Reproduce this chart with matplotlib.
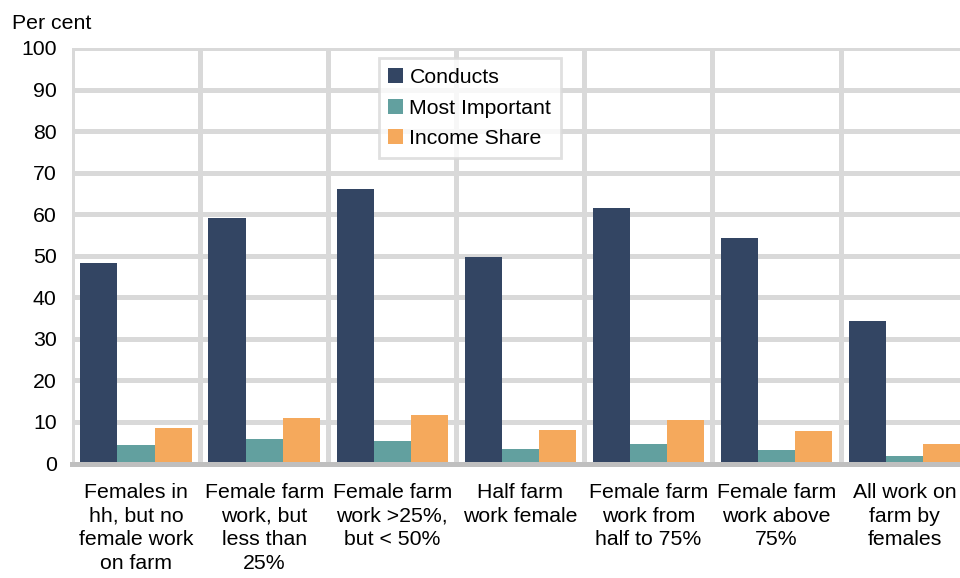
import matplotlib
matplotlib.use("Agg")
import matplotlib.pyplot as plt
import numpy as np
from matplotlib.ticker import FixedLocator

plt.rcParams['font.family'] = ['Liberation Sans', 'DejaVu Sans']

categories = ["Females in\nhh, but no\nfemale work\non farm",
              "Female farm\nwork, but\nless than\n25%",
              "Female farm\nwork >25%,\nbut < 50%",
              "Half farm\nwork female",
              "Female farm\nwork from\nhalf to 75%",
              "Female farm\nwork above\n75%",
              "All work on\nfarm by\nfemales"]
conducts = [48.2, 59.0, 66.0, 49.8, 61.6, 54.3, 34.2]
most_important = [4.5, 5.8, 5.4, 3.4, 4.6, 3.2, 1.9]
income_share = [8.5, 10.9, 11.8, 8.0, 10.4, 7.8, 4.7]
series_names = ["Conducts", "Most Important", "Income Share"]
colors = ["#334563", "#62a09f", "#f5a95c"]
yticks = [0, 10, 20, 30, 40, 50, 60, 70, 80, 90, 100]

FS = 15.3

fig = plt.figure(figsize=(9.6, 5.78), dpi=100)
ax = fig.add_axes([0.075, 0.198, 0.934, 0.719])

x = np.arange(len(categories))
w = 0.29
for i, (vals, name, c) in enumerate(zip([conducts, most_important, income_share], series_names, colors)):
    ax.bar(x + (i - 1) * w, vals, width=w, color=c, label=name, zorder=3)

ax.set_xlim(-0.5, len(categories) - 0.5)
ax.set_ylim(0, 100)
ax.set_yticks(yticks)
ax.set_xticks(x)
ax.set_xticklabels(categories, fontsize=FS, linespacing=1.3, va='top')
ax.xaxis.set_minor_locator(FixedLocator(np.arange(-0.5, len(categories) + 0.5, 1)))
ax.tick_params(axis='both', which='both', length=0, labelsize=FS)
ax.tick_params(axis='x', pad=14)
ax.tick_params(axis='y', pad=11)
ax.grid(axis='y', which='major', color='#d9d9d9', linewidth=3.6, zorder=0)
ax.grid(axis='x', which='minor', color='#d9d9d9', linewidth=3.6, zorder=0)
ax.grid(axis='x', which='major', visible=False)
for s in ['top', 'right', 'left']:
    ax.spines[s].set_visible(False)
ax.spines['bottom'].set_color('#bfbfbf')
ax.spines['bottom'].set_linewidth(3.6)
ax.spines['bottom'].set_zorder(4)

fig.text(0.012, 0.943, "Per cent", fontsize=FS, ha='left', va='bottom')

leg = ax.legend(loc='upper left', bbox_to_anchor=(0.342, 0.975), fontsize=FS,
                frameon=True, fancybox=False, edgecolor='#d9d9d9',
                handlelength=0.7, handleheight=0.7, handletextpad=0.3,
                labelspacing=0.55, borderpad=0.45, borderaxespad=0)
leg.get_frame().set_linewidth(2)
leg.set_zorder(5)

fig.savefig("out.png", dpi=100)
